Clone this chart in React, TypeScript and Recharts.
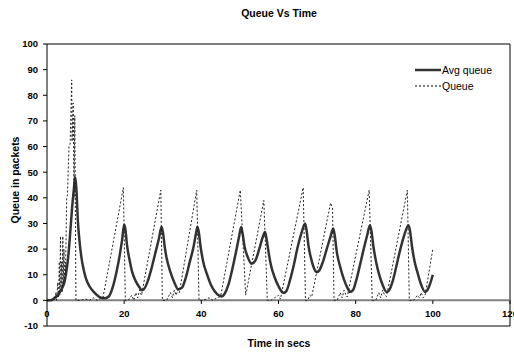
import React from 'react';
import { Legend, Line, LineChart, ReferenceLine, XAxis, YAxis } from 'recharts';

document.body.style.margin = '0';

const FONT = 'Arial, "Liberation Sans", sans-serif';

const xTicks = [0, 20, 40, 60, 80, 100, 120];
const yTicks = [-10, 0, 10, 20, 30, 40, 50, 60, 70, 80, 90, 100];

// [time (s), packets]
const avgQueue: [number, number][] = [
  [0, 0], [1, 0], [2, 1], [3, 2.5], [4, 5], [4.5, 7], [5, 11], [5.5, 17], [6, 26], [6.5, 36],
  [7, 44], [7.3, 48], [7.6, 44], [8, 31], [8.5, 22], [9, 16], [9.5, 12], [10, 9], [11, 5.5],
  [12, 3.5], [13, 2], [14, 1], [15, 0.8], [16, 1.5], [17, 5], [18, 11], [19, 19], [19.5, 24],
  [20, 29.5], [20.3, 28], [20.7, 22], [21.5, 15], [22, 11.5], [23, 7.5], [24, 5], [24.5, 4],
  [25, 4.2], [26, 7], [27, 12], [28, 18], [29, 24], [29.7, 28.7], [30.1, 26], [30.5, 21],
  [31, 16.5], [32, 11], [33, 7], [34, 4.3], [35, 5], [36, 9], [37, 15], [38, 21], [38.6, 26],
  [39, 28.7], [39.4, 26], [39.8, 21], [40.5, 15], [41.5, 10], [42.5, 6], [43.5, 3.5], [44.5, 2],
  [45.3, 1.5], [46, 2.5], [47, 6], [48, 12], [49, 19], [49.8, 25], [50.3, 28.6], [50.7, 26],
  [51.2, 21], [52, 17], [53, 14.3], [54, 15.5], [55, 20], [56, 25], [56.5, 26.7], [56.9, 24],
  [57.4, 19], [58, 14], [59, 9], [60, 5.5], [61.3, 2.9], [62, 3.5], [63, 8], [64, 14], [65, 21],
  [66, 26.5], [66.9, 30], [67.3, 27], [67.8, 21], [68.5, 16], [69.2, 12.5], [69.9, 11],
  [70.5, 11.5], [71.5, 15], [72.5, 20], [73.5, 25], [74.2, 28], [74.6, 25], [75.1, 19], [76, 13],
  [77, 8], [78, 4.5], [78.5, 3.3], [79.3, 4], [80, 7], [81, 13], [82, 19.5], [83, 25.5],
  [83.7, 29.3], [84.1, 27], [84.6, 21], [85.3, 15], [86, 10.5], [87, 6], [88, 3.3], [88.6, 3.8],
  [89.5, 7], [90.5, 13], [91.5, 19.5], [92.5, 25], [93.7, 29.3], [94.1, 27], [94.6, 21],
  [95.3, 15], [96, 11], [97, 6], [98, 3.3], [98.6, 4], [99.3, 6.5], [100, 10],
];

const queue: [number, number][] = [
  [0, 0], [1, 0], [1.5, 1], [2, 0], [2.3, 3], [2.5, 0], [2.8, 7], [3, 1], [3.2, 15], [3.3, 2],
  [3.5, 25], [3.6, 5], [3.8, 15], [3.9, 3], [4.1, 25], [4.2, 6], [4.4, 20], [4.5, 8], [4.7, 15],
  [4.8, 10], [5.1, 40], [5.3, 41], [5.7, 60], [6, 61], [6.4, 86], [6.5, 62], [6.8, 77], [7, 40],
  [7.2, 72], [7.5, 0],
  [8.5, 0], [10, 0.5], [11, 0], [12, 1], [13, 0], [14, 1], [14.5, 1], [19.8, 44], [20.3, 0],
  [21, 0], [22, 2], [22.5, 0], [23, 3], [23.5, 1], [24, 4], [24.5, 2], [29.5, 43], [29.9, 0],
  [31, 0], [32, 3], [32.5, 1], [33, 4], [33.5, 2], [34, 5], [34.3, 3], [38.8, 43], [39.4, 0],
  [40.5, 0], [42, 1], [43, 0], [44, 1], [45, 1.5], [50.1, 43], [51.5, 2], [56.2, 39], [57.1, 0],
  [58, 0], [59, 1], [60, 2], [60.5, 0.5], [66.4, 44], [67, 0],
  [67.6, 0], [68.1, 2], [68.6, 1.3], [73.5, 38], [74, 36], [74.4, 0],
  [75.2, 0], [76, 3], [76.5, 1], [77, 4], [77.5, 2], [77.8, 1.3], [83.5, 43], [84.3, 0],
  [85.2, 0], [86, 3], [86.5, 1], [87, 4], [87.5, 2], [88, 1.5], [93.4, 43], [93.9, 0],
  [95, 0], [96, 2], [96.5, 1], [97, 3], [97.5, 1], [98, 2], [100, 20],
];

type Row = { time: number; avg: number | null; queue: number | null };

const rows = new Map<number, Row>();
const rowAt = (t: number) => {
  if (!rows.has(t)) rows.set(t, { time: t, avg: null, queue: null });
  return rows.get(t)!;
};
avgQueue.forEach(([t, v]) => { rowAt(t).avg = v; });
queue.forEach(([t, v]) => { rowAt(t).queue = v; });
const chartData = Array.from(rows.values()).sort((a, b) => a.time - b.time);

const XTick = ({ x, y, payload }: any) => (
  <text x={x} y={y} dy={-9} textAnchor="middle" fontFamily={FONT} fontSize={9.5} fontWeight="bold" fill="#000">
    {payload.value}
  </text>
);

const LegendBox = () => (
  <div style={{ fontFamily: FONT, fontSize: 10.5, color: '#000', lineHeight: '16px' }}>
    <div style={{ display: 'flex', alignItems: 'center' }}>
      <svg width={26} height={8}>
        <line x1={0} y1={4} x2={26} y2={4} stroke="#333" strokeWidth={2.5} />
      </svg>
      <span style={{ marginLeft: 1 }}>Avg queue</span>
    </div>
    <div style={{ display: 'flex', alignItems: 'center' }}>
      <svg width={26} height={8}>
        <line x1={0} y1={4} x2={26} y2={4} stroke="#000" strokeWidth={1} strokeDasharray="2 2" />
      </svg>
      <span style={{ marginLeft: 1 }}>Queue</span>
    </div>
  </div>
);

export default function App() {
  const titleStyle: React.CSSProperties = {
    position: 'absolute',
    fontFamily: FONT,
    fontSize: 10.5,
    fontWeight: 'bold',
    lineHeight: '12px',
    textAlign: 'center',
    whiteSpace: 'nowrap',
  };
  return (
    <div style={{ position: 'relative', width: 514, height: 354, background: '#fff' }}>
      <div style={{ ...titleStyle, left: 179, top: 7, width: 200 }}>Queue Vs Time</div>
      <div style={{ ...titleStyle, left: 179, top: 337, width: 200 }}>Time in secs</div>
      <div
        style={{
          ...titleStyle,
          left: 15 - 60,
          top: 180 - 6,
          width: 120,
          transform: 'rotate(-90deg)',
        }}
      >
        Queue in packets
      </div>
      <LineChart
        width={514}
        height={354}
        data={chartData}
        margin={{ top: 44, right: 4, bottom: 0, left: 0 }}
      >
        <XAxis
          type="number"
          dataKey="time"
          domain={[0, 120]}
          ticks={xTicks}
          interval={0}
          height={28}
          tickSize={0}
          tickMargin={0}
          tickLine={false}
          axisLine={{ stroke: '#000' }}
          tick={<XTick />}
        />
        <YAxis
          type="number"
          domain={[-10, 100]}
          ticks={yTicks}
          interval={0}
          width={47}
          tickSize={4}
          tickMargin={5}
          axisLine={{ stroke: '#000' }}
          tickLine={{ stroke: '#000' }}
          tick={{ fontFamily: FONT, fontSize: 9.5, fontWeight: 'bold', fill: '#000' }}
        />
        <ReferenceLine y={100} stroke="#000" />
        <ReferenceLine x={120} stroke="#000" />
        <ReferenceLine y={0} stroke="#808080" strokeWidth={2} />
        {xTicks.slice(1).map((t) => (
          <ReferenceLine
            key={t}
            segment={[{ x: t, y: 0 }, { x: t, y: -1.4 }]}
            stroke="#000"
          />
        ))}
        <Line
          type="monotone"
          dataKey="avg"
          name="Avg queue"
          stroke="#333"
          strokeWidth={2.5}
          dot={false}
          connectNulls
          isAnimationActive={false}
        />
        <Line
          type="linear"
          dataKey="queue"
          name="Queue"
          stroke="#222"
          strokeWidth={1}
          strokeDasharray="2 2"
          dot={false}
          connectNulls
          isAnimationActive={false}
        />
        <Legend
          layout="vertical"
          align="center"
          verticalAlign="middle"
          content={<LegendBox />}
          wrapperStyle={{ top: 62, left: 415, width: 95 }}
        />
      </LineChart>
    </div>
  );
}
